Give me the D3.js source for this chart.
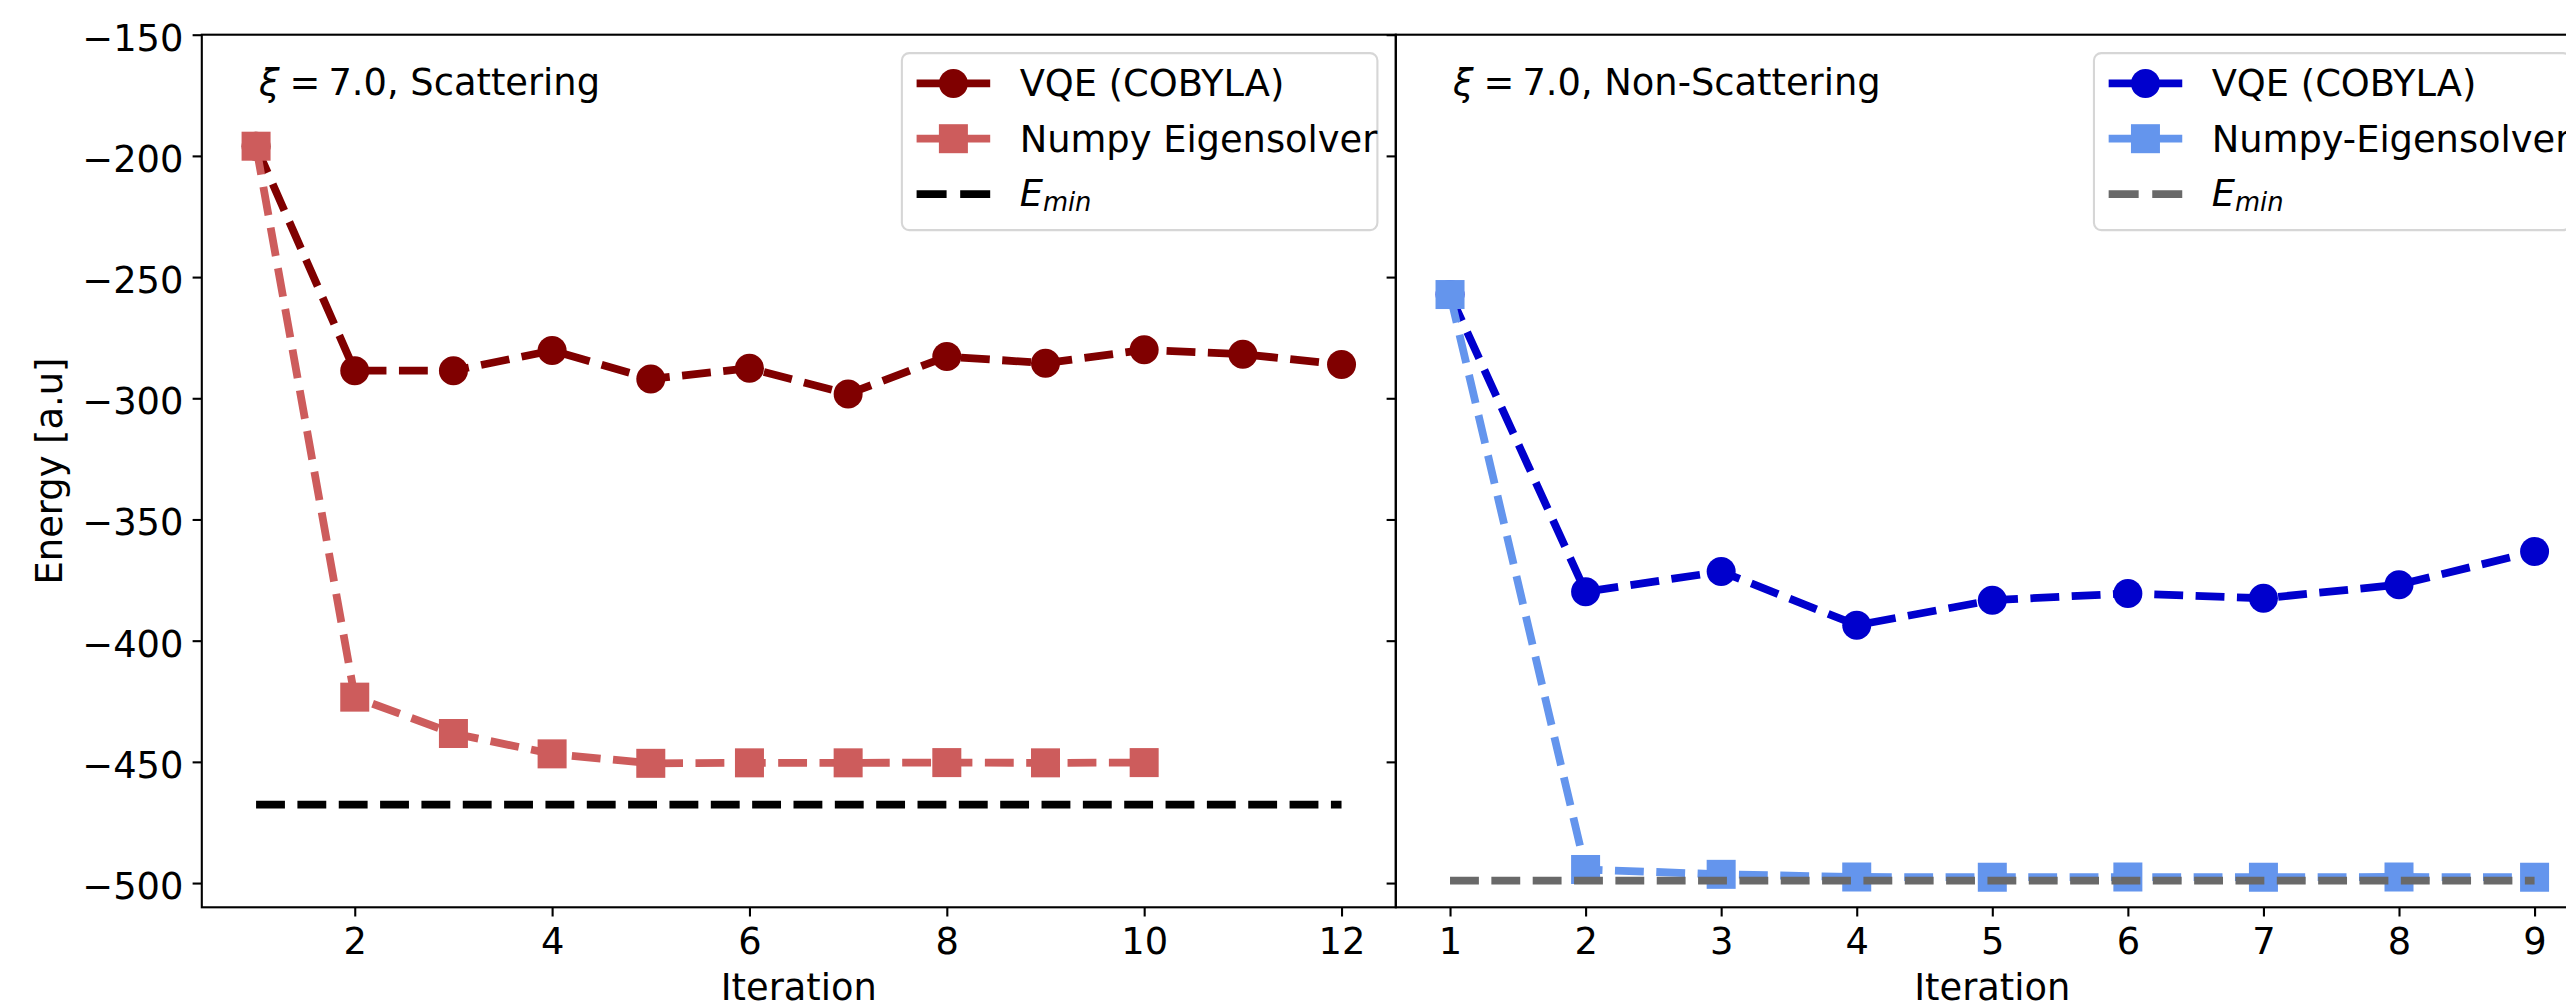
<!DOCTYPE html>
<html>
<head>
<meta charset="utf-8">
<script src="https://cdn.jsdelivr.net/npm/d3@7"></script>
<style>
  body { margin: 0; background: #fff; }
  text { font-family: "DejaVu Sans"; }
</style>
</head>
<body>
<div id="main"></div>
<script>
const cte = {
    w: 2566,
    h: 1008,
    top: 34.7,
    bottom: 907.3,
    fs: 36.8,
    lw: 7.8,
    marker: 29,
    tick: 9.2,
    spine: 2.1,
};

// left panel: xi = 7.0, scattering
const iterScattering = [1, 2, 3, 4, 5, 6, 7, 8, 9, 10, 11, 12];
const vqeScattering = [-196, -288.6, -288.6, -280.3, -292.0, -287.6, -298.2, -282.8, -285.5, -280.0, -281.8, -286.1];
const iterNumpyScattering = [1, 2, 3, 4, 5, 6, 7, 8, 9, 10];
const numpyScattering = [-196, -423.3, -438.3, -446.7, -450.6, -450.4, -450.4, -450.3, -450.4, -450.3];
const eminScattering = -467.6;

// right panel: xi = 7.0, non-scattering
const iterNonScattering = [1, 2, 3, 4, 5, 6, 7, 8, 9];
const vqeNonScattering = [-257.2, -379.8, -371.5, -393.6, -383.3, -380.5, -382.5, -376.9, -363.2];
const numpyNonScattering = [-257.2, -494.4, -496.4, -497.5, -497.6, -497.5, -497.6, -497.5, -497.6];
const eminNonScattering = -499.0;

const yTicks = [-150, -200, -250, -300, -350, -400, -450, -500];
const xTicksScattering = [2, 4, 6, 8, 10, 12];
const xTicksNonScattering = [1, 2, 3, 4, 5, 6, 7, 8, 9];

const legendScattering = ["VQE (COBYLA)", "Numpy Eigensolver"];
const legendNonScattering = ["VQE (COBYLA)", "Numpy-Eigensolver"];

const yScale = d3.scaleLinear().domain([-510, -150]).range([cte.bottom, cte.top]);
const dash = `${3.7 * cte.lw} ${1.6 * cte.lw}`;

function drawSeries(g, x, xs, ys, color, shape) {
    const line = d3.line()
        .x((d, i) => x(xs[i]))
        .y(d => yScale(d));
    g.append("path")
        .datum(ys)
        .attr("d", line)
        .attr("fill", "none")
        .attr("stroke", color)
        .attr("stroke-width", cte.lw)
        .attr("stroke-dasharray", dash)
        .attr("stroke-linejoin", "round");

    if (shape === "circle") {
        g.selectAll(null).data(ys).enter().append("circle")
            .attr("cx", (d, i) => x(xs[i]))
            .attr("cy", d => yScale(d))
            .attr("r", cte.marker / 2)
            .attr("fill", color);
    } else if (shape === "square") {
        g.selectAll(null).data(ys).enter().append("rect")
            .attr("x", (d, i) => x(xs[i]) - cte.marker / 2)
            .attr("y", d => yScale(d) - cte.marker / 2)
            .attr("width", cte.marker)
            .attr("height", cte.marker)
            .attr("fill", color);
    }
}

function drawLegend(svg, right, p) {
    const em = cte.fs;
    const rows = [30.3, 85.6, 141];
    const lg = svg.append("g").attr("transform", `translate(0, ${cte.top + 0.5 * em})`);
    const box = lg.append("rect")
        .attr("y", 0)
        .attr("height", 177)
        .attr("rx", 0.2 * em)
        .attr("fill", "#fff")
        .attr("fill-opacity", 0.8)
        .attr("stroke", "#d6d6d6")
        .attr("stroke-width", cte.spine);

    const items = lg.append("g");
    const handles = [
        { color: p.vqeColor, shape: "circle" },
        { color: p.numpyColor, shape: "square" },
        { color: p.eminColor, shape: null },
    ];
    handles.forEach((h, i) => {
        const cy = rows[i];
        items.append("line")
            .attr("x1", 0).attr("x2", 2 * em)
            .attr("y1", cy).attr("y2", cy)
            .attr("stroke", h.color)
            .attr("stroke-width", cte.lw)
            .attr("stroke-dasharray", h.shape ? null : "30 13.6");
        if (h.shape === "circle") {
            items.append("circle").attr("cx", em).attr("cy", cy).attr("r", cte.marker / 2).attr("fill", h.color);
        } else if (h.shape === "square") {
            items.append("rect").attr("x", em - cte.marker / 2).attr("y", cy - cte.marker / 2)
                .attr("width", cte.marker).attr("height", cte.marker).attr("fill", h.color);
        }
    });

    const tx = 2.8 * em;
    let maxW = 0;
    p.labels.forEach((lab, i) => {
        const t = items.append("text")
            .attr("x", tx).attr("y", rows[i] + 13)
            .attr("font-size", em)
            .text(lab);
        maxW = Math.max(maxW, t.node().getComputedTextLength());
    });
    const emin = items.append("text")
        .attr("x", tx).attr("y", rows[2] + 11.7)
        .attr("font-size", em);
    emin.append("tspan").attr("font-style", "italic").text("E");
    emin.append("tspan").attr("font-style", "italic").attr("font-size", 0.7 * em).attr("dy", 5).text("min");

    const width = maxW + tx + 0.4 * em;
    const left = right - 0.5 * em - width;
    box.attr("x", left).attr("width", width);
    items.attr("transform", `translate(${left + 0.4 * em}, 0)`);
}

function drawPanel(svg, p) {
    const x = d3.scaleLinear().domain(p.xDomain).range(p.xRange);
    const [x0, x1] = p.xRange;

    const g = svg.append("g");
    drawSeries(g, x, p.iterVqe, p.vqe, p.vqeColor, "circle");
    drawSeries(g, x, p.iterNumpy, p.numpy, p.numpyColor, "square");

    const eminLine = d3.line().x(d => x(d[0])).y(d => yScale(d[1]));
    g.append("path")
        .datum([[p.iterVqe[0], p.emin], [p.iterVqe[p.iterVqe.length - 1], p.emin]])
        .attr("d", eminLine)
        .attr("fill", "none")
        .attr("stroke", p.eminColor)
        .attr("stroke-width", cte.lw)
        .attr("stroke-dasharray", dash);

    // x axis
    const gx = svg.append("g")
        .attr("transform", `translate(0, ${cte.bottom})`)
        .call(d3.axisBottom(x).tickValues(p.xTicks).tickSize(cte.tick).tickSizeOuter(0).tickFormat(d3.format("d")))
        .attr("font-family", null).attr("font-size", null);
    gx.select(".domain").remove();
    gx.selectAll(".tick line").attr("stroke", "#000").attr("stroke-width", cte.spine);
    gx.selectAll(".tick text")
        .attr("y", 47.2).attr("dy", null)
        .attr("font-size", cte.fs).attr("fill", "#000");

    // y axis
    const gy = svg.append("g")
        .attr("transform", `translate(${x0}, 0)`)
        .call(d3.axisLeft(yScale).tickValues(yTicks).tickSize(cte.tick).tickSizeOuter(0))
        .attr("font-family", null).attr("font-size", null);
    gy.select(".domain").remove();
    gy.selectAll(".tick line").attr("stroke", "#000").attr("stroke-width", cte.spine);
    if (p.yLabels) {
        gy.selectAll(".tick text")
            .attr("x", -2 * cte.tick).attr("dy", null).attr("y", 15.5)
            .attr("font-size", cte.fs).attr("fill", "#000");
    } else {
        gy.selectAll(".tick text").remove();
    }

    // spines
    svg.append("rect")
        .attr("x", x0).attr("y", cte.top)
        .attr("width", x1 - x0).attr("height", cte.bottom - cte.top)
        .attr("fill", "none").attr("stroke", "#000").attr("stroke-width", cte.spine);

    // annotation
    const ann = svg.append("text")
        .attr("x", x(1) + 3).attr("y", yScale(-175))
        .attr("font-size", cte.fs);
    ann.append("tspan").attr("font-style", "italic").text("ξ");
    ann.append("tspan").attr("dx", 10).text("=");
    ann.append("tspan").attr("dx", 8).text("7.0, " + p.title);

    svg.append("text")
        .attr("x", (x0 + x1) / 2).attr("y", 1000)
        .attr("text-anchor", "middle")
        .attr("font-size", cte.fs)
        .text("Iteration");

    drawLegend(svg, x1, p);
}

function createVisualisation() {
    const svg = d3.select("#main").append("svg")
        .attr("width", cte.w)
        .attr("height", cte.h)
        .style("display", "block");

    drawPanel(svg, {
        xDomain: [0.45, 12.55], xRange: [201.8, 1395.8], xTicks: xTicksScattering,
        iterVqe: iterScattering, vqe: vqeScattering,
        iterNumpy: iterNumpyScattering, numpy: numpyScattering,
        emin: eminScattering,
        vqeColor: "#800000", numpyColor: "#cd5c5c", eminColor: "#000000",
        labels: legendScattering, title: "Scattering", yLabels: true,
    });

    drawPanel(svg, {
        xDomain: [0.6, 9.4], xRange: [1395.8, 2588.8], xTicks: xTicksNonScattering,
        iterVqe: iterNonScattering, vqe: vqeNonScattering,
        iterNumpy: iterNonScattering, numpy: numpyNonScattering,
        emin: eminNonScattering,
        vqeColor: "#0000cd", numpyColor: "#6495ed", eminColor: "#696969",
        labels: legendNonScattering, title: "Non-Scattering", yLabels: false,
    });

    svg.append("text")
        .attr("transform", `translate(61.7, ${(cte.top + cte.bottom) / 2}) rotate(-90)`)
        .attr("text-anchor", "middle")
        .attr("font-size", cte.fs)
        .text("Energy [a.u]");
}

createVisualisation();
</script>
</body>
</html>
